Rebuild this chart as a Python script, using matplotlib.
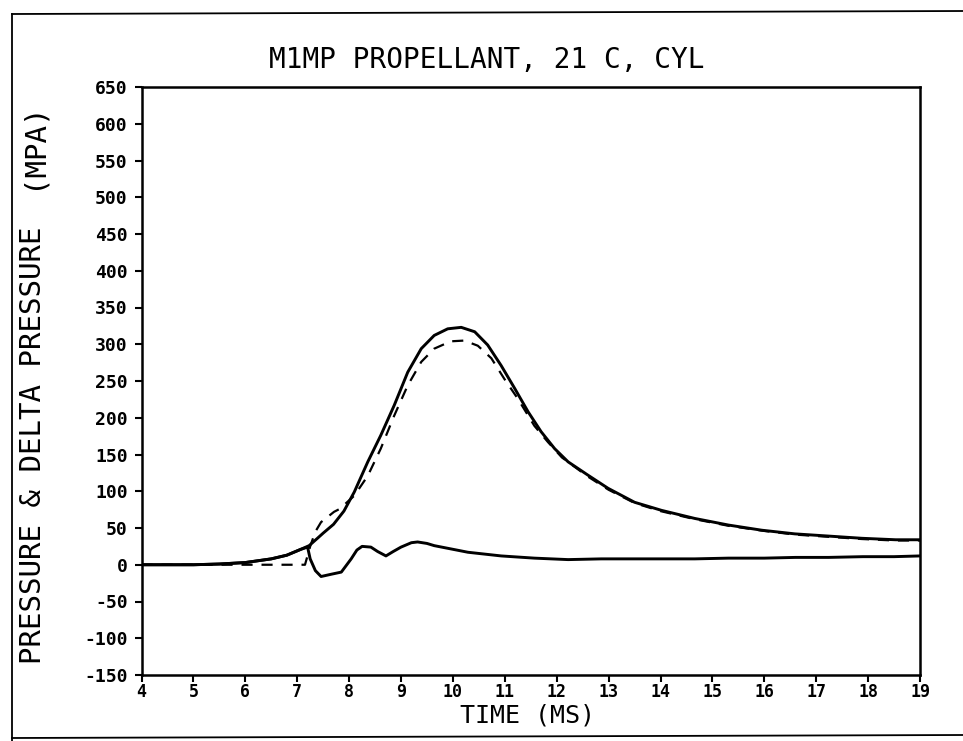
import numpy as np
import matplotlib
matplotlib.use('Agg')
import matplotlib.pyplot as plt
from matplotlib.lines import Line2D

## measured pressure (solid)
t_meas = [4.0, 5.0, 5.5, 6.0, 6.5, 6.8, 7.07, 7.23, 7.39, 7.5, 7.7, 7.9, 8.1, 8.36,
          8.61, 8.87, 9.13, 9.39, 9.64, 9.9, 10.16, 10.42, 10.67, 10.93, 11.19,
          11.45, 11.7, 11.96, 12.22, 12.6, 12.99, 13.5, 14.02, 14.66, 15.31,
          15.95, 16.59, 17.24, 17.88, 18.53, 19.0]
p_meas = [0, 0, 1, 3, 8, 13, 21, 26, 36, 43, 55, 73, 99, 140,
          176, 217, 262, 294, 312, 321, 323, 317, 299, 271, 240,
          208, 181, 158, 140, 122, 104, 85, 74, 63, 54,
          47, 42, 39, 36, 34, 34]

## calculated pressure (dashed)
t_calc = [4.0, 7.15, 7.25, 7.35, 7.46, 7.71, 7.82, 8.1, 8.36, 8.61, 8.87, 9.13,
          9.39, 9.64, 9.96, 10.22, 10.48, 10.74, 10.99, 11.25, 11.57, 11.83,
          12.1, 12.6, 13.0, 13.5, 14.0, 14.66, 15.31, 16.0, 16.6, 17.24, 17.88,
          18.5, 19.0]
p_calc = [0, 0, 25, 45, 58, 72, 76, 94, 121, 158, 203, 244,
          276, 294, 304, 305, 298, 281, 253, 226, 189, 167,
          146, 120, 102, 84, 73, 62, 53, 46, 41, 38, 35,
          33, 33]

## delta pressure
t_delta = [4.0, 5.0, 5.5, 6.0, 6.5, 6.8, 7.07, 7.2, 7.25, 7.35, 7.46, 7.65, 7.85,
           8.04, 8.15, 8.25, 8.42, 8.55, 8.71, 8.85, 9.0, 9.2, 9.32, 9.5, 9.64,
           10.29, 10.93, 11.57, 12.22, 12.86, 13.5, 14.02, 14.66, 15.31, 16.0,
           16.6, 17.24, 17.9, 18.5, 19.0]
p_delta = [0, 0, 1, 3, 8, 13, 21, 24, 8, -8, -16, -13, -10,
           8, 20, 25, 24, 18, 12, 18, 24, 30, 31, 29, 26,
           17, 12, 9, 7, 8, 8, 8, 8, 9, 9,
           10, 10, 11, 11, 12]

xticks = list(range(4, 20))
yticks = list(range(-150, 651, 50))

mono = 'DejaVu Sans Mono'

fig = plt.figure(figsize=(9.63, 7.41), dpi=100)
ax = fig.add_axes([141.5/963, 1-675/741, (920-141.5)/963, (675-87)/741])

ax.plot(t_meas, p_meas, color='black', lw=2.1, solid_joinstyle='round')
ax.plot(t_calc, p_calc, color='black', lw=1.6, dashes=(5, 4))
ax.plot(t_delta, p_delta, color='black', lw=2.1, solid_joinstyle='round')

ax.set_xlim(4, 19)
ax.set_ylim(-150, 650)
ax.set_xticks(xticks)
ax.set_yticks(yticks)
ax.set_xticklabels([str(v) for v in xticks], fontfamily=mono, fontweight='bold', fontsize=12)
ax.set_yticklabels([str(v) for v in yticks], fontfamily=mono, fontweight='bold', fontsize=13)
ax.tick_params(direction='out', length=5, width=1.5, color='black')
ax.tick_params(axis='x', pad=1)
ax.tick_params(axis='y', pad=5)
for s in ax.spines.values():
    s.set_linewidth(1.8)

## labels
fig.text(487/963, 1-60/741, 'M1MP PROPELLANT, 21 C, CYL', ha='center', va='center',
         fontfamily=mono, fontsize=20)
fig.text(527/963, 1-716/741, 'TIME (MS)', ha='center', va='center',
         fontfamily=mono, fontsize=18)
fig.text(33/963, 1-445/741, 'PRESSURE & DELTA PRESSURE', ha='center', va='center',
         rotation=90, fontfamily=mono, fontsize=21)
fig.text(33/963, 1-145/741, '(MPA)', ha='center', va='center',
         rotation=90, fontfamily=mono, fontsize=21)

## page frame
fig.add_artist(Line2D([12/963, 12/963], [0, 1-14/741], color='black', lw=1.3))
fig.add_artist(Line2D([12/963, 1], [1-14/741, 1-11/741], color='black', lw=1.3))
fig.add_artist(Line2D([12/963, 1], [1-738/741, 1-735/741], color='black', lw=1.3))

fig.savefig('out.png', dpi=100)
